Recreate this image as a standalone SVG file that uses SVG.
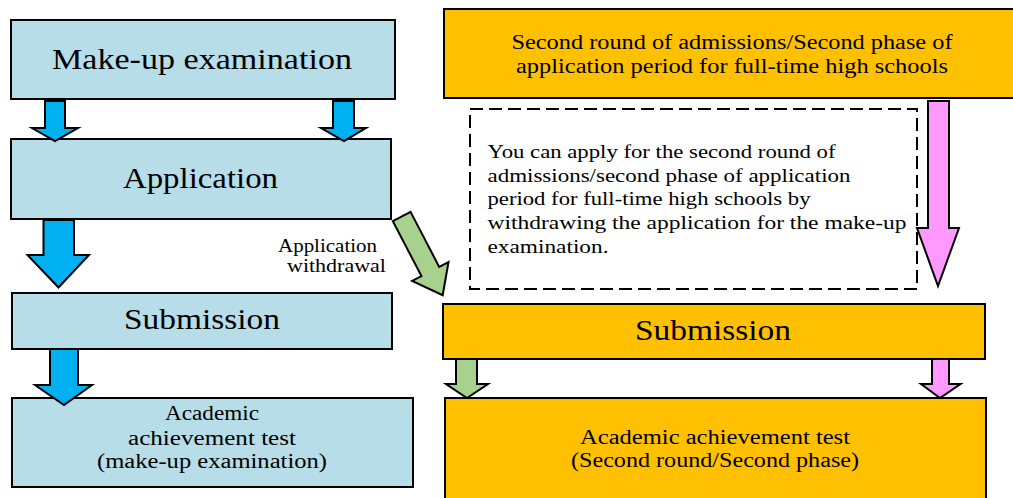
<svg xmlns="http://www.w3.org/2000/svg" width="1013" height="498" viewBox="0 0 1013 498">
<style>
.blue{fill:#B7DDE8;stroke:#000;stroke-width:2}
.orange{fill:#FFC000;stroke:#000;stroke-width:2}
.note{fill:#fff;stroke:#000;stroke-width:2;stroke-dasharray:13 6}
text{fill:#000;font-family:'Liberation Serif','LiberationSerif','Tinos','Times New Roman',Times,'DejaVu Serif','Noto Serif',serif}
.big{font-size:30px}
.mid{font-size:20px}
.sm{font-size:18px}
.a{stroke:#000;stroke-width:2;stroke-linejoin:miter}
.cy{fill:#00B0F0}
.gr{fill:#A9D18E}
.pk{fill:#FF99FF}
</style>
<rect width="1013" height="498" fill="#fff"/>
<g id="makeup">
<rect class="blue" x="11" y="20" width="384" height="79"/>
<text class="big" x="202" y="69" text-anchor="middle" textLength="300" lengthAdjust="spacingAndGlyphs">Make-up examination</text>
</g>
<g id="application">
<rect class="blue" x="11" y="139" width="380" height="80"/>
<text class="big" x="200.5" y="188" text-anchor="middle" textLength="155" lengthAdjust="spacingAndGlyphs">Application</text>
</g>
<g id="submission-left">
<rect class="blue" x="12" y="293" width="380" height="56"/>
<text class="big" x="202" y="329" text-anchor="middle" textLength="156" lengthAdjust="spacingAndGlyphs">Submission</text>
</g>
<g id="test-left">
<rect class="blue" x="12" y="398" width="401" height="89"/>
<text class="mid" x="212" y="420" text-anchor="middle" textLength="94" lengthAdjust="spacingAndGlyphs">Academic</text>
<text class="mid" x="212" y="445" text-anchor="middle" textLength="168" lengthAdjust="spacingAndGlyphs">achievement test</text>
<text class="mid" x="212" y="468" text-anchor="middle" textLength="230" lengthAdjust="spacingAndGlyphs">(make-up examination)</text>
</g>
<g id="second-round">
<rect class="orange" x="444" y="9" width="580" height="89"/>
<text class="mid" x="732" y="49" text-anchor="middle" textLength="441" lengthAdjust="spacingAndGlyphs">Second round of admissions/Second phase of</text>
<text class="mid" x="732" y="73" text-anchor="middle" textLength="432" lengthAdjust="spacingAndGlyphs">application period for full-time high schools</text>
</g>
<g id="note">
<rect class="note" x="470" y="109" width="447" height="180"/>
<text class="sm" x="487.5" y="158" textLength="348" lengthAdjust="spacingAndGlyphs">You can apply for the second round of</text>
<text class="sm" x="487.5" y="182" textLength="363" lengthAdjust="spacingAndGlyphs">admissions/second phase of application</text>
<text class="sm" x="487.5" y="205" textLength="323" lengthAdjust="spacingAndGlyphs">period for full-time high schools by</text>
<text class="sm" x="487.5" y="229" textLength="419" lengthAdjust="spacingAndGlyphs">withdrawing the application for the make-up</text>
<text class="sm" x="487.5" y="253" textLength="121" lengthAdjust="spacingAndGlyphs">examination.</text>
</g>
<g id="submission-right">
<rect class="orange" x="443" y="304" width="542" height="55"/>
<text class="big" x="713" y="340" text-anchor="middle" textLength="156" lengthAdjust="spacingAndGlyphs">Submission</text>
</g>
<g id="test-right">
<rect class="orange" x="445" y="398" width="541" height="104"/>
<text class="mid" x="715" y="444" text-anchor="middle" textLength="270" lengthAdjust="spacingAndGlyphs">Academic achievement test</text>
<text class="mid" x="715" y="467" text-anchor="middle" textLength="288" lengthAdjust="spacingAndGlyphs">(Second round/Second phase)</text>
</g>
<g id="connectors">
<polygon class="a cy" points="45,101 65,101 65,128 78,128 55,141 32,128 45,128"/>
<polygon class="a cy" points="333,101 354,101 354,128 366,128 344,141 321,128 333,128"/>
<polygon class="a cy" points="43.5,220 74,220 74,255 89,255 58.5,287.5 27.5,255 43.5,255"/>
<polygon class="a cy" points="50,349 78,349 78,385 92,385 64,405 35,385 50,385"/>
<polygon class="a gr" transform="translate(401.7,216.5) rotate(62.5)" points="0,-10 62,-10 62,-20.5 88.8,0 62,20.5 62,10 0,10"/>
<polygon class="a pk" points="928,101 949,101 949,228 959,228 938,286 917,228 928,228"/>
<polygon class="a gr" points="456,359 477,359 477,384 488,384 467,398 446,384 456,384"/>
<polygon class="a pk" points="932,359 949,359 949,384 960.5,384 940,398 921,384 932,384"/>
<text class="sm" x="377" y="252" text-anchor="end" textLength="99" lengthAdjust="spacingAndGlyphs">Application</text>
<text class="sm" x="386" y="272" text-anchor="end" textLength="99" lengthAdjust="spacingAndGlyphs">withdrawal</text>
</g>
</svg>
